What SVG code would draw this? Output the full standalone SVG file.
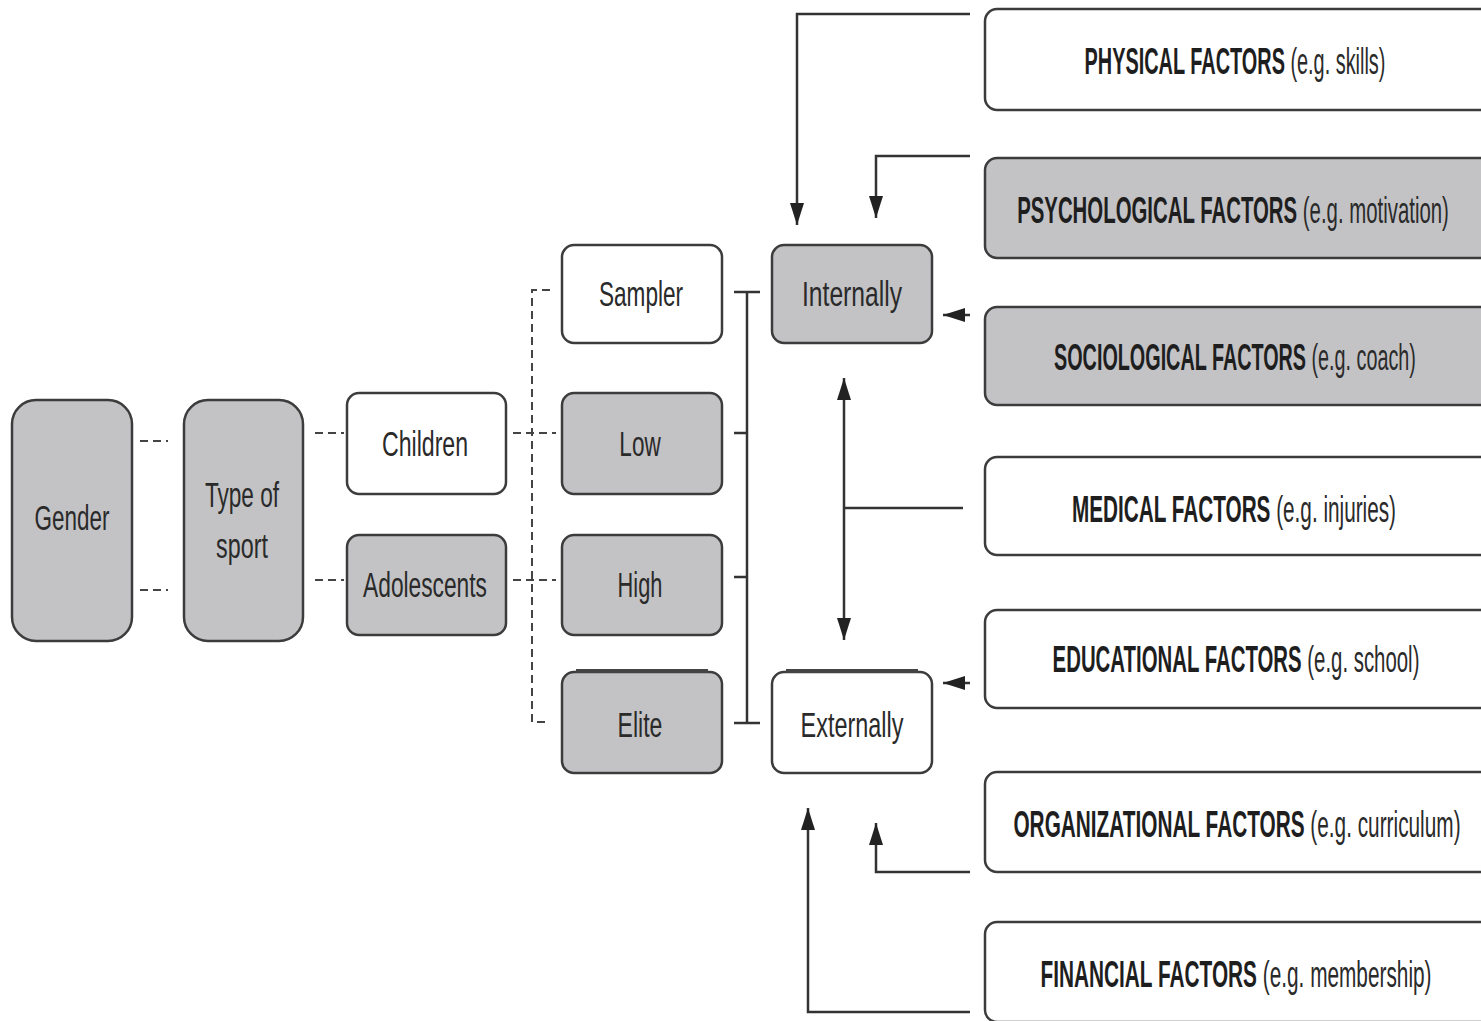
<svg xmlns="http://www.w3.org/2000/svg" width="1481" height="1021" viewBox="0 0 1481 1021">
  <style>
    .box { stroke: #3c3c3c; stroke-width: 2.5; }
    .gray { fill: #c3c3c6; }
    .white { fill: #ffffff; }
    .lbl { font-family: "Liberation Sans", Arial, sans-serif; font-size: 36px; fill: #2a2a2a; text-anchor: middle; }
    .fac { font-family: "Liberation Sans", Arial, sans-serif; font-size: 36px; fill: #2a2a2a; text-anchor: middle; }
    .fac .b { font-weight: bold; fill: #1e1e1e; }
    .solid { fill: none; stroke: #333; stroke-width: 2.5; }
    .dash { fill: none; stroke: #444; stroke-width: 2; stroke-dasharray: 8 5; }
    .edge { stroke: #444; stroke-width: 4; }
  </style>
  <defs>
    <marker id="arrow" viewBox="0 0 22 14" refX="22" refY="7" markerWidth="22" markerHeight="14" markerUnits="userSpaceOnUse" orient="auto-start-reverse">
      <path d="M0,0 L22,7 L0,14 z" fill="#222"/>
    </marker>
  </defs>

  <rect width="1481" height="1021" fill="#ffffff"/>

  <!-- connectors -->
  <g id="connectors">
    <!-- dashed links on the left -->
    <path class="dash" d="M140,441 H168 M140,590 H168"/>
    <path class="dash" d="M315,433 H344 M315,580 H344"/>
    <path class="dash" d="M513,433 H556 M513,580 H556"/>
    <path class="dash" d="M550,290 H532 V722 H550"/>
    <!-- solid bracket joining the levels -->
    <path class="solid" d="M747,292 V723"/>
    <path class="solid" d="M734,292 H760 M734,433 H748 M734,577 H748 M734,723 H760"/>
    <!-- internal factors -->
    <path class="solid" d="M970,14 H797 V225" marker-end="url(#arrow)"/>
    <path class="solid" d="M970,156 H876 V218" marker-end="url(#arrow)"/>
    <path class="solid" d="M970,315 H943" marker-end="url(#arrow)"/>
    <!-- medical: both ways -->
    <path class="solid" d="M844,378 V640" marker-start="url(#arrow)" marker-end="url(#arrow)"/>
    <path class="solid" d="M963,508 H844"/>
    <!-- external factors -->
    <path class="solid" d="M970,683 H943" marker-end="url(#arrow)"/>
    <path class="solid" d="M970,872 H876 V823" marker-end="url(#arrow)"/>
    <path class="solid" d="M970,1012 H808 V808" marker-end="url(#arrow)"/>
  </g>

  <!-- left column -->
  <g id="gender">
    <rect class="box gray" x="12" y="400" width="120" height="241" rx="24"/>
    <text class="lbl" transform="translate(72,530) scale(0.7,1)" textLength="107" lengthAdjust="spacingAndGlyphs">Gender</text>
  </g>
  <g id="type-of-sport">
    <rect class="box gray" x="184" y="400" width="119" height="241" rx="24"/>
    <text class="lbl" transform="translate(242,507) scale(0.7,1)" textLength="106" lengthAdjust="spacingAndGlyphs">Type of</text>
    <text class="lbl" transform="translate(242,558) scale(0.7,1)" textLength="74" lengthAdjust="spacingAndGlyphs">sport</text>
  </g>
  <g id="children">
    <rect class="box white" x="347" y="393" width="159" height="101" rx="12"/>
    <text class="lbl" transform="translate(425,456) scale(0.7,1)" textLength="123" lengthAdjust="spacingAndGlyphs">Children</text>
  </g>
  <g id="adolescents">
    <rect class="box gray" x="347" y="535" width="159" height="100" rx="12"/>
    <text class="lbl" transform="translate(425,597) scale(0.7,1)" textLength="177" lengthAdjust="spacingAndGlyphs">Adolescents</text>
  </g>

  <!-- level column -->
  <g id="sampler">
    <rect class="box white" x="562" y="245" width="160" height="98" rx="12"/>
    <text class="lbl" transform="translate(641,306) scale(0.7,1)" textLength="120" lengthAdjust="spacingAndGlyphs">Sampler</text>
  </g>
  <g id="low">
    <rect class="box gray" x="562" y="393" width="160" height="101" rx="12"/>
    <text class="lbl" transform="translate(640,456) scale(0.7,1)" textLength="59" lengthAdjust="spacingAndGlyphs">Low</text>
  </g>
  <g id="high">
    <rect class="box gray" x="562" y="535" width="160" height="100" rx="12"/>
    <text class="lbl" transform="translate(640,597) scale(0.7,1)" textLength="64" lengthAdjust="spacingAndGlyphs">High</text>
  </g>
  <g id="elite">
    <rect class="box gray" x="562" y="672" width="160" height="101" rx="12"/>
    <line class="edge" x1="576" y1="671" x2="708" y2="671"/>
    <text class="lbl" transform="translate(640,737) scale(0.7,1)" textLength="64" lengthAdjust="spacingAndGlyphs">Elite</text>
  </g>

  <!-- dropout direction -->
  <g id="internally">
    <rect class="box gray" x="772" y="245" width="160" height="98" rx="12"/>
    <text class="lbl" transform="translate(852,306) scale(0.7,1)" textLength="143" lengthAdjust="spacingAndGlyphs">Internally</text>
  </g>
  <g id="externally">
    <rect class="box white" x="772" y="672" width="160" height="101" rx="12"/>
    <line class="edge" x1="786" y1="671" x2="918" y2="671"/>
    <text class="lbl" transform="translate(852,737) scale(0.7,1)" textLength="147" lengthAdjust="spacingAndGlyphs">Externally</text>
  </g>

  <!-- factor boxes -->
  <g id="physical">
    <rect class="box white" x="985" y="9" width="520" height="101" rx="12"/>
    <text class="fac" transform="translate(1235,74) scale(0.55,1)" textLength="547" lengthAdjust="spacingAndGlyphs"><tspan class="b">PHYSICAL FACTORS</tspan> (e.g. skills)</text>
  </g>
  <g id="psychological">
    <rect class="box gray" x="985" y="158" width="520" height="100" rx="12"/>
    <text class="fac" transform="translate(1233,223) scale(0.55,1)" textLength="785" lengthAdjust="spacingAndGlyphs"><tspan class="b">PSYCHOLOGICAL FACTORS</tspan> (e.g. motivation)</text>
  </g>
  <g id="sociological">
    <rect class="box gray" x="985" y="307" width="520" height="98" rx="12"/>
    <text class="fac" transform="translate(1235,370) scale(0.55,1)" textLength="658" lengthAdjust="spacingAndGlyphs"><tspan class="b">SOCIOLOGICAL FACTORS</tspan> (e.g. coach)</text>
  </g>
  <g id="medical">
    <rect class="box white" x="985" y="457" width="520" height="98" rx="12"/>
    <text class="fac" transform="translate(1234,522) scale(0.55,1)" textLength="589" lengthAdjust="spacingAndGlyphs"><tspan class="b">MEDICAL FACTORS</tspan> (e.g. injuries)</text>
  </g>
  <g id="educational">
    <rect class="box white" x="985" y="610" width="520" height="98" rx="12"/>
    <text class="fac" transform="translate(1236,672) scale(0.55,1)" textLength="667" lengthAdjust="spacingAndGlyphs"><tspan class="b">EDUCATIONAL FACTORS</tspan> (e.g. school)</text>
  </g>
  <g id="organizational">
    <rect class="box white" x="985" y="772" width="520" height="100" rx="12"/>
    <text class="fac" transform="translate(1237,837) scale(0.55,1)" textLength="813" lengthAdjust="spacingAndGlyphs"><tspan class="b">ORGANIZATIONAL FACTORS</tspan> (e.g. curriculum)</text>
  </g>
  <g id="financial">
    <rect class="box white" x="985" y="922" width="520" height="100" rx="12"/>
    <text class="fac" transform="translate(1236,987) scale(0.55,1)" textLength="711" lengthAdjust="spacingAndGlyphs"><tspan class="b">FINANCIAL FACTORS</tspan> (e.g. membership)</text>
  </g>
</svg>
